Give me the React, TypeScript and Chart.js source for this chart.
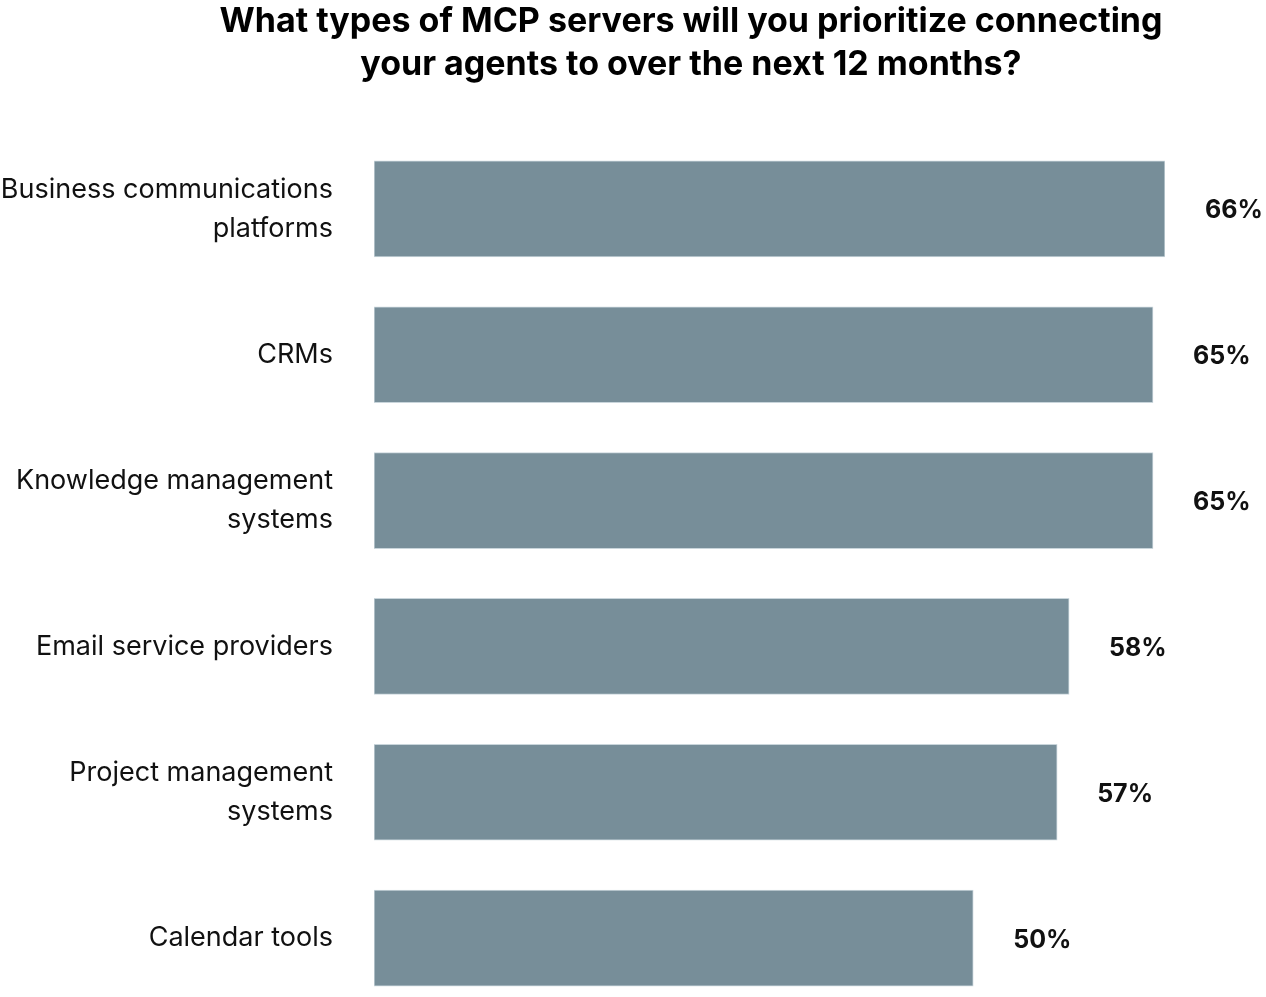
import { Chart, registerables } from 'chart.js';
import { useEffect, useRef } from 'react';

Chart.register(...registerables);

const titleLines = [
  'What types of MCP servers will you prioritize connecting',
  'your agents to over the next 12 months?'
];

const categories = [
  ['Business communications', 'platforms'],
  ['CRMs'],
  ['Knowledge management', 'systems'],
  ['Email service providers'],
  ['Project management', 'systems'],
  ['Calendar tools']
];

const shares = [66, 65, 65, 58, 57, 50];

const FONT = 'Inter, "Noto Sans", sans-serif';

const valueLabels = {
  id: 'valueLabels',
  afterDatasetsDraw(chart: Chart) {
    const { ctx } = chart;
    const meta = chart.getDatasetMeta(0);
    ctx.save();
    ctx.font = `bold 25px ${FONT}`;
    ctx.fillStyle = '#111111';
    ctx.textAlign = 'left';
    ctx.textBaseline = 'middle';
    meta.data.forEach((bar: any, i: number) => {
      ctx.fillText(`${shares[i]}%`, bar.x + 40, bar.y + 2);
    });
    ctx.restore();
  }
};

export default function App() {
  const chartRef = useRef<HTMLCanvasElement>(null);
  const chartInstanceRef = useRef<Chart | null>(null);

  useEffect(() => {
    document.body.style.margin = '0';
    if (!chartRef.current) return;

    if (chartInstanceRef.current) {
      chartInstanceRef.current.destroy();
    }

    chartInstanceRef.current = new Chart(chartRef.current, {
      type: 'bar',
      data: {
        labels: categories,
        datasets: [
          {
            data: shares,
            backgroundColor: '#778e99',
            borderColor: '#c9d5db',
            borderWidth: 1,
            borderSkipped: false,
            barThickness: 96
          }
        ]
      },
      options: {
        indexAxis: 'y',
        responsive: false,
        animation: false,
        layout: {
          padding: { top: 136, right: 101, bottom: 9, left: 0 }
        },
        scales: {
          x: {
            display: false,
            min: 0,
            max: 66
          },
          y: {
            grid: { display: false, drawTicks: false },
            border: { display: false },
            ticks: {
              padding: 41,
              color: '#111111',
              font: { family: FONT, size: 27, lineHeight: 1.444 }
            },
            afterFit(scale: any) {
              // fixed label column; no extra vertical padding from tick labels
              scale.width = 374;
              scale.paddingTop = 0;
              scale.paddingBottom = 0;
            }
          }
        },
        plugins: {
          legend: { display: false },
          tooltip: { enabled: false }
        }
      },
      plugins: [valueLabels]
    });

    return () => {
      if (chartInstanceRef.current) {
        chartInstanceRef.current.destroy();
        chartInstanceRef.current = null;
      }
    };
  }, []);

  return (
    <div style={{ position: 'relative', width: 1266, height: 997, overflow: 'hidden', background: '#fff' }}>
      <canvas ref={chartRef} width={1266} height={1020} style={{ display: 'block' }} />
      <div
        style={{
          position: 'absolute',
          top: -2,
          left: 116,
          right: 0,
          textAlign: 'center',
          fontFamily: FONT,
          fontWeight: 700,
          fontSize: 34,
          lineHeight: '43px',
          color: '#000'
        }}
      >
        {titleLines.map((line) => (
          <div key={line}>{line}</div>
        ))}
      </div>
    </div>
  );
}
